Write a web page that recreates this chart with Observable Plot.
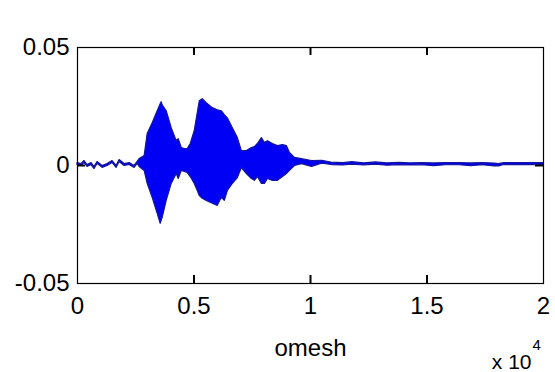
<!DOCTYPE html>
<html><head><meta charset="utf-8">
<script src="https://cdn.jsdelivr.net/npm/d3@7"></script>
<script src="https://cdn.jsdelivr.net/npm/@observablehq/plot@0.6"></script>
<style>body{margin:0;background:#fff} svg{display:block}</style>
</head><body><div id="chart"></div>
<script>
const sampleIndex = [0,172,301,430,602,731,860,1075,1290,1505,1677,1806,2021,2237,2452,2580,
  2667,2882,3011,3226,3441,3570,3613,3656,3828,4043,4258,4344,4473,4602,4731,4860,5032,5161,5247,5376,
  5548,5806,6021,6193,6322,6452,6667,6882,7054,7269,7484,7613,7742,7914,8043,8172,8387,8602,8817,8989,
  9118,9333,9634,10064,10500,10900,11400,11800,12300,12800,13300,13800,14300,14800,15300,15800,16400,
  16900,17400,17900,18100,18300,19000,20000];
const upperEnv = [0.0010,0.0006,0.0019,0.0002,0.0010,-0.0007,0.0015,-0.0002,0.0006,0.0019,-0.0002,0.0023,0.0006,0.0010,-0.0002,0.0015,
  0.0027,0.0040,0.0133,0.0179,0.0230,0.0260,0.0268,0.0255,0.0230,0.0158,0.0103,0.0112,0.0074,0.0070,0.0070,0.0091,0.0146,0.0222,0.0272,0.0281,
  0.0264,0.0243,0.0234,0.0230,0.0213,0.0200,0.0158,0.0116,0.0061,0.0061,0.0074,0.0078,0.0091,0.0116,0.0095,0.0103,0.0091,0.0082,0.0087,0.0082,
  0.0053,0.0032,0.0027,0.0019,0.0020,0.0012,0.0010,0.0014,0.0009,0.0013,0.0009,0.0011,0.0009,0.0010,0.0009,0.0010,0.0010,
  0.0009,0.0010,0.0008,0.0006,0.0010,0.0010,0.0010];
const lowerEnv = [0.0002,-0.0002,0.0011,-0.0006,0.0002,-0.0015,0.0007,-0.0010,-0.0002,0.0011,-0.0010,0.0015,-0.0002,0.0002,-0.0010,0.0007,
  -0.0006,-0.0023,-0.0078,-0.0137,-0.0205,-0.0247,-0.0234,-0.0222,-0.0150,-0.0078,-0.0036,-0.0057,-0.0023,-0.0027,-0.0032,-0.0049,-0.0078,-0.0108,-0.0129,-0.0141,
  -0.0150,-0.0162,-0.0171,-0.0137,-0.0150,-0.0108,-0.0078,-0.0053,-0.0011,-0.0036,-0.0057,-0.0065,-0.0049,-0.0078,-0.0078,-0.0057,-0.0065,-0.0065,-0.0049,-0.0036,
  -0.0023,-0.0002,0.0006,-0.0006,0.0008,0.0002,0.0000,0.0004,0.0000,0.0004,-0.0001,0.0002,0.0000,0.0001,-0.0003,0.0001,0.0001,
  -0.0003,0.0001,-0.0004,-0.0004,0.0002,0.0002,0.0002];

const xTicks = [0, 5000, 10000, 15000, 20000];
const xTickLabels = ["0", "0.5", "1", "1.5", "2"];
const yTicks = [-0.05, 0, 0.05];
const yTickLabels = ["-0.05", "0", "0.05"];
const xLabel = "omesh";
const exponentBase = "x 10";
const exponentPower = "4";

const data = sampleIndex.map((s, i) => ({s, hi: upperEnv[i], lo: lowerEnv[i]}));
const fontFamily = "'Liberation Sans', Arial, Helvetica, sans-serif";

const W = 555, H = 372, mL = 77, mR = 12, mT = 47, mB = 89;
const tickPx = 8;
const innerW = W - mL - mR, innerH = H - mT - mB;
const xDom = [xTicks[0], xTicks[xTicks.length - 1]];
const yDom = [yTicks[0], yTicks[yTicks.length - 1]];

const chart = Plot.plot({
  width: W, height: H,
  marginLeft: mL, marginRight: mR, marginTop: mT, marginBottom: mB,
  style: {fontFamily, fontSize: "24px", background: "#fff", color: "#000"},
  x: {domain: xDom},
  y: {domain: yDom},
  marks: [
    Plot.areaY(data, {x: "s", y1: "lo", y2: "hi", fill: "#0000f5", stroke: "#14149e", strokeWidth: 1.2}),
    Plot.frame({stroke: "#000", strokeWidth: 1.2}),
    // inward ticks on all four sides
    Plot.tickX(xTicks.slice(1, -1), {x: d => d, insetTop: innerH - tickPx, stroke: "#000", strokeWidth: 2, strokeOpacity: 1}),
    Plot.tickX(xTicks.slice(1, -1), {x: d => d, insetBottom: innerH - tickPx, stroke: "#000", strokeWidth: 2, strokeOpacity: 1}),
    Plot.tickY(yTicks.slice(1, -1), {y: d => d, insetRight: innerW - tickPx, stroke: "#000", strokeWidth: 2, strokeOpacity: 1}),
    Plot.tickY(yTicks.slice(1, -1), {y: d => d, insetLeft: innerW - tickPx, stroke: "#000", strokeWidth: 2, strokeOpacity: 1}),
    Plot.axisX(xTicks, {anchor: "bottom", tickSize: 0, tickPadding: 13, tickFormat: d => xTickLabels[xTicks.indexOf(d)], label: null}),
    Plot.axisY(yTicks, {anchor: "left", tickSize: 0, tickPadding: 8, tickFormat: d => yTickLabels[yTicks.indexOf(d)], label: null}),
    Plot.text([xLabel], {frameAnchor: "bottom", dy: 65, lineAnchor: "middle", fontSize: 24}),
    Plot.text([exponentBase], {frameAnchor: "bottom-right", textAnchor: "end", dx: -12, dy: 79, lineAnchor: "middle", fontSize: 21}),
    Plot.text([exponentPower], {frameAnchor: "bottom-right", textAnchor: "start", dx: -11, dy: 62, lineAnchor: "middle", fontSize: 15})
  ]
});
document.getElementById("chart").append(chart);
</script>
</body></html>
